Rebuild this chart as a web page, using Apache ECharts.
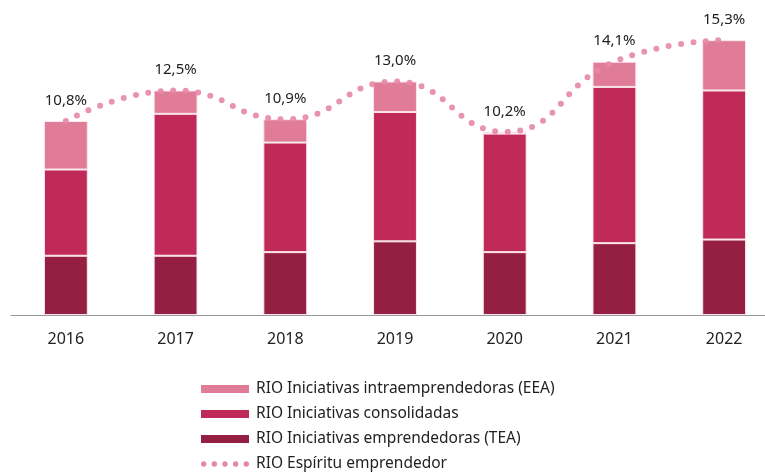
<!DOCTYPE html>
<html>
    <head>
        <meta charset="utf-8">
        <title>RIO</title>
        <script src="https://cdn.jsdelivr.net/npm/echarts@6/dist/echarts.min.js"></script>
        <style>
            html, body { margin: 0; padding: 0; background: #fff; }
            #chart1 { width: 765px; height: 473px; }
        </style>
    </head>
    <body>
        <div id="chart1"></div>
    </body>

    <script type="text/javascript">
        // datos
        var years = ['2016', '2017', '2018', '2019', '2020', '2021', '2022'];
        var tea = [3.3, 3.3, 3.5, 4.1, 3.5, 4.0, 4.2];
        var consolidadas = [4.8, 7.9, 6.1, 7.2, 6.6, 8.7, 8.3];
        var eea = [2.7, 1.3, 1.3, 1.7, 0.1, 1.4, 2.8];
        var espiritu = [10.8, 12.5, 10.9, 13.0, 10.2, 14.1, 15.3];

        var nombres = [
            'RIO Iniciativas intraemprendedoras (EEA)',
            'RIO Iniciativas consolidadas',
            'RIO Iniciativas emprendedoras (TEA)',
            'RIO Espíritu emprendedor'
        ];

        var fuente = 'Noto Sans';
        var rosa = '#e588a6';
        // icono de la leyenda: cinco puntos
        var puntos = 'path://M0,0 M48,8';
        for (var i = 0; i < 5; i++) {
            var cx = 2.7 + i * 10.65;
            puntos += ' M' + (cx - 2.7) + ',4a2.7,2.7 0 1,0 5.4,0a2.7,2.7 0 1,0 -5.4,0';
        }

        var myChart1 = echarts.init(document.getElementById('chart1'));

        function barra(name, data, color) {
            return {
                name: name,
                type: 'bar',
                stack: 'rio',
                barWidth: '40%',
                data: data,
                itemStyle: { color: color, borderColor: '#fbe6ec', borderWidth: 1 }
            };
        }

        myChart1.setOption({
            animation: false,
            textStyle: { fontFamily: fuente },
            grid: { left: 11, width: 768, top: 27.6, bottom: 158, containLabel: false, outerBoundsMode: 'none' },
            legend: {
                orient: 'vertical',
                left: 201,
                top: 381,
                padding: 0,
                itemWidth: 48,
                itemHeight: 8,
                itemGap: 9,
                itemStyle: { borderWidth: 0 },
                data: [
                    { name: nombres[0], icon: 'rect' },
                    { name: nombres[1], icon: 'rect' },
                    { name: nombres[2], icon: 'rect' },
                    { name: nombres[3], icon: puntos, itemStyle: { color: rosa } }
                ],
                textStyle: { fontSize: 15.5, color: '#222', fontFamily: fuente, padding: [0, 0, 0, 2] }
            },
            xAxis: {
                type: 'category',
                data: years,
                axisTick: { show: false },
                axisLine: { lineStyle: { color: '#999', width: 1 } },
                axisLabel: { fontSize: 16, color: '#222', margin: 16, fontFamily: fuente }
            },
            yAxis: {
                type: 'value',
                min: 0,
                max: 16,
                show: false,
                splitLine: { show: false }
            },
            series: [
                barra(nombres[2], tea, '#951f43'),
                barra(nombres[1], consolidadas, '#c02a58'),
                barra(nombres[0], eea, '#e07b98'),
                {
                    name: nombres[3],
                    type: 'line',
                    data: espiritu,
                    smooth: 0.5,
                    symbol: 'circle',
                    symbolSize: 0.01,
                    z: 5,
                    itemStyle: { color: rosa },
                    lineStyle: { color: rosa, width: 6, type: [0, 12.5], cap: 'round', opacity: 0.9 },
                    label: {
                        show: true,
                        position: 'top',
                        distance: 13,
                        fontSize: 15,
                        color: '#222',
                        fontFamily: fuente,
                        formatter: function (p) {
                            return p.value.toFixed(1).replace('.', ',') + '%';
                        }
                    }
                }
            ]
        });
    </script>
</html>
